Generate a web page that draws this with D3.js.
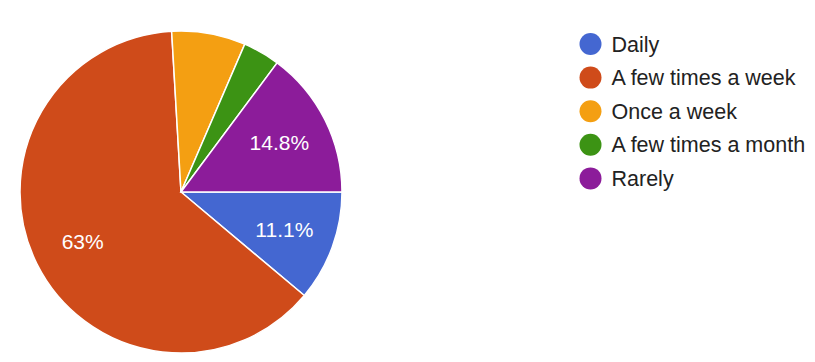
<!DOCTYPE html>
<html>
<head>
<meta charset="utf-8">
<script src="https://cdn.jsdelivr.net/npm/d3@7"></script>
<style>
  body { margin: 0; background: #fff; }
  svg { display: block; font-family: "Liberation Sans", Arial, sans-serif; }
</style>
</head>
<body>
<div id="graph"></div>
<script>
// data
var categories = ["Daily", "A few times a week", "Once a week", "A few times a month", "Rarely"];
var counts = [3, 17, 2, 1, 4];
var colors = ["#4467d1", "#cf4b1a", "#f49f12", "#3c9314", "#8c1c9a"];

// measurements
var width = 815;
var height = 362;
var cx = 181, cy = 192, radius = 161;

var total = d3.sum(counts);
var data = categories.map(function (c, i) { return { name: c, value: counts[i], color: colors[i] }; });

var chart = d3.select("#graph").append("svg")
    .attr("width", width)
    .attr("height", height);

var pie = d3.pie()
    .sort(null)
    .value(function (d) { return d.value; })
    .startAngle(Math.PI / 2)
    .endAngle(Math.PI / 2 + 2 * Math.PI);

var arc = d3.arc().innerRadius(0).outerRadius(radius);
var labelArc = d3.arc().innerRadius(110).outerRadius(110);

var plot = chart.append("g")
    .attr("transform", "translate(" + cx + "," + cy + ")");

var slices = pie(data);

plot.selectAll(".slice")
    .data(slices)
    .enter().append("path")
      .attr("class", "slice")
      .attr("d", arc)
      .style("fill", function (d) { return d.data.color; })
      .style("stroke", "#fff")
      .style("stroke-width", 1.5);

function pct(v) {
  var p = v / total * 100;
  return (Math.round(p * 10) / 10) + "%";
}

// labels only on slices big enough
plot.selectAll(".lbl")
    .data(slices.filter(function (d) { return d.endAngle - d.startAngle > 0.5; }))
    .enter().append("text")
      .attr("class", "lbl")
      .attr("transform", function (d) { return "translate(" + labelArc.centroid(d) + ")"; })
      .attr("text-anchor", "middle")
      .attr("dy", "0.35em")
      .style("fill", "#fff")
      .style("font-size", "21px")
      .text(function (d) { return pct(d.data.value); });

// legend
var legend = chart.append("g")
    .attr("transform", "translate(590.5,44)");

var rows = legend.selectAll(".row")
    .data(data)
    .enter().append("g")
      .attr("class", "row")
      .attr("transform", function (d, i) { return "translate(0," + (i * 33.6) + ")"; });

rows.append("circle")
    .attr("r", 11)
    .style("fill", function (d) { return d.color; });

rows.append("text")
    .attr("x", 21)
    .attr("dy", "0.35em")
    .style("font-size", "21.5px")
    .style("fill", "#222")
    .text(function (d) { return d.name; });
</script>
</body>
</html>
